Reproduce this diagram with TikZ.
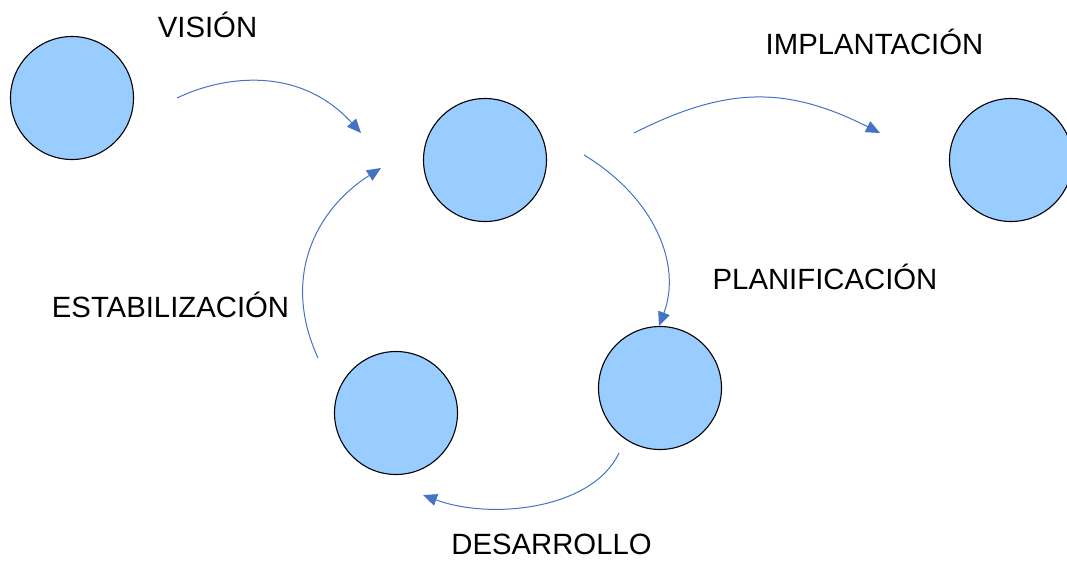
\documentclass[tikz,border=0pt]{standalone}
\usepackage{fontspec}
\setmainfont{Liberation Sans}
\usetikzlibrary{arrows.meta}
\definecolor{phasefill}{RGB}{153,204,255}
\definecolor{flowblue}{RGB}{68,114,196}
\begin{document}
\begin{tikzpicture}[x=1pt,y=-1pt,
  phase/.style={circle, draw=black, line width=1.1pt, fill=phasefill,
                minimum size=123pt, inner sep=0pt},
  lbl/.style={inner sep=0pt, anchor=base, font=\fontsize{29.3}{34}\selectfont},
  flow/.style={draw=flowblue, line width=1pt,
               -{Triangle[length=14pt,width=12pt]}, flowblue}]
  \useasboundingbox (0,0) rectangle (1067,560);
  \clip (0,0) rectangle (1067,560);

  % phase circles
  \node[phase] (c1) at (72,98) {};
  \node[phase] (c2) at (485,160) {};
  \node[phase] (c3) at (1011,160) {};
  \node[phase] (c4) at (660,388) {};
  \node[phase] (c5) at (396,413) {};

  % labels
  \node[lbl] (tvision) at (207.5,37) {VISIÓN};
  \node[lbl] (timpl) at (874.5,54) {IMPLANTACIÓN};
  \node[lbl] (tplan) at (825,289) {PLANIFICACIÓN};
  \node[lbl] (testab) at (170.5,317) {ESTABILIZACIÓN};
  \node[lbl] (tdes) at (551.5,554) {DESARROLLO};

  % free ends of the transition arrows
  \coordinate (a1s) at (177,98);  \coordinate (a1e) at (361,133);
  \coordinate (a2s) at (634,133); \coordinate (a2e) at (880,133);
  \coordinate (a3s) at (584,155); \coordinate (a3e) at (659,326);
  \coordinate (a4s) at (619,453); \coordinate (a4e) at (423,495);
  \coordinate (a5s) at (318,358); \coordinate (a5e) at (381,168);

  % transitions
  \draw[flow] (a1s) .. controls (225,75) and (300,66) .. (a1e);
  \draw[flow] (a2s) .. controls (727,86) and (787,86) .. (a2e);
  \draw[flow] (a3s) .. controls (655,198) and (682,265) .. (a3e);
  \draw[flow] (a4s) .. controls (592,510) and (490,520) .. (a4e);
  \draw[flow] (a5s) .. controls (280,275) and (318,208) .. (a5e);
\end{tikzpicture}
\end{document}
